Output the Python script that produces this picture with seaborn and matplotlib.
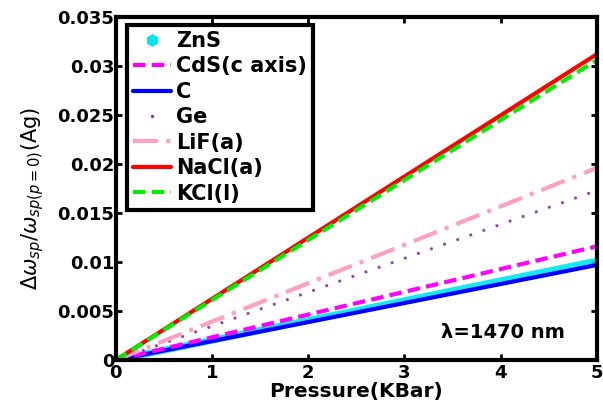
import numpy as np
import pandas as pd
import matplotlib
matplotlib.use("Agg")
import matplotlib.pyplot as plt
from matplotlib.lines import Line2D
import seaborn as sns

sns.set_style("white")
plt.rcParams['font.family'] = 'DejaVu Sans'
plt.rcParams['text.color'] = 'black'
plt.rcParams['axes.labelcolor'] = 'black'
plt.rcParams['xtick.color'] = 'black'
plt.rcParams['ytick.color'] = 'black'

# pressure values (KBar)
pressure = [0, 1, 2, 3, 4, 5]

# relative shift for each material
zns = [0.0, 0.00202, 0.00404, 0.00606, 0.00808, 0.0101]
cds = [0.0, 0.00232, 0.00464, 0.00696, 0.00928, 0.0116]
c_vals = [0.0, 0.00194, 0.00388, 0.00582, 0.00776, 0.0097]
ge = [0.0, 0.00346, 0.00692, 0.01038, 0.01384, 0.0173]
lif = [0.0, 0.00392, 0.00784, 0.01176, 0.01568, 0.0196]
nacl = [0.0, 0.00624, 0.01248, 0.01872, 0.02496, 0.0312]
kcl = [0.0, 0.00612, 0.01224, 0.01836, 0.02448, 0.0306]

names = ['ZnS', 'CdS(c axis)', 'C', 'Ge', 'LiF(a)', 'NaCl(a)', 'KCl(l)']
series = [zns, cds, c_vals, ge, lif, nacl, kcl]

frames = []
for name, vals in zip(names, series):
    frames.append(pd.DataFrame({'p': pressure, 'v': vals, 'mat': name}))
df = pd.concat(frames, ignore_index=True)

styles = {
    'ZnS': dict(color='#00e5ee', ls='-', lw=5, alpha=0.9),
    'CdS(c axis)': dict(color='#ff00ff', ls=(0, (3, 1.5)), lw=3),
    'C': dict(color='#0000ff', ls='-', lw=3),
    'Ge': dict(color='#8e44ad', ls=(0, (1, 4)), lw=2),
    'LiF(a)': dict(color='#ffa0c0', ls=(0, (6, 2, 1, 2)), lw=3),
    'NaCl(a)': dict(color='#ff0000', ls='-', lw=3),
    'KCl(l)': dict(color='#00ee00', ls=(0, (3, 1.5)), lw=3),
}

fig = plt.figure(figsize=(6.03, 4.12), dpi=100)
ax = fig.add_axes([0.192, 0.126, 0.798, 0.833])

draw_order = ['ZnS', 'C', 'CdS(c axis)', 'Ge', 'LiF(a)', 'NaCl(a)', 'KCl(l)']
for name in draw_order:
    st = styles[name]
    sub = df[df['mat'] == name]
    sns.lineplot(data=sub, x='p', y='v', ax=ax, color=st['color'],
                 linestyle=st['ls'], linewidth=st['lw'], alpha=st.get('alpha', 1),
                 label='_nolegend_')

# legend handles in reference order
handles = []
for name in names:
    st = styles[name]
    if name == 'ZnS':
        handles.append(Line2D([], [], color=st['color'], marker='h', ls='none', markersize=8))
    elif name == 'Ge':
        handles.append(Line2D([], [], color=st['color'], marker='.', ls='none', markersize=3))
    else:
        handles.append(Line2D([], [], color=st['color'], ls=st['ls'], lw=st['lw']))
leg = ax.legend(handles, names, loc='upper left', bbox_to_anchor=(0.023, 0.977),
                prop={'weight': 'bold', 'size': 15}, frameon=True, fancybox=False,
                framealpha=1, handlelength=1.8, handletextpad=0.25, labelspacing=0.26,
                borderpad=0.3, borderaxespad=0)
leg.get_frame().set_edgecolor('black')
leg.get_frame().set_linewidth(3)
for t in leg.get_texts():
    t.set_color('black')

ax.set_xlim(0, 5)
ax.set_ylim(0, 0.035)
ax.set_xticks([0, 1, 2, 3, 4, 5])
ax.set_yticks([0, 0.005, 0.01, 0.015, 0.02, 0.025, 0.03, 0.035])
ax.set_xticklabels(['0', '1', '2', '3', '4', '5'])
ax.set_yticklabels(['0', '0.005', '0.01', '0.015', '0.02', '0.025', '0.03', '0.035'])
ax.tick_params(direction='in', length=4, width=2, labelsize=13, pad=1,
               top=True, right=True, bottom=True, left=True)
ax.tick_params(axis='x', pad=3)
for lab in ax.get_xticklabels() + ax.get_yticklabels():
    lab.set_fontweight('bold')
for sp in ax.spines.values():
    sp.set_linewidth(3)
    sp.set_color('black')

ax.set_xlabel('Pressure(KBar)', fontsize=14.5, fontweight='bold', labelpad=0)
ax.set_ylabel(r'$\Delta\omega_{sp}/\omega_{sp(p=0)}$(Ag)', fontsize=15)
ax.yaxis.set_label_coords(-0.145, 0.47)
ax.text(0.933, 0.08, 'λ=1470 nm', transform=ax.transAxes, ha='right', va='center',
        fontsize=14, fontweight='bold')

fig.savefig('out.png', dpi=100)
